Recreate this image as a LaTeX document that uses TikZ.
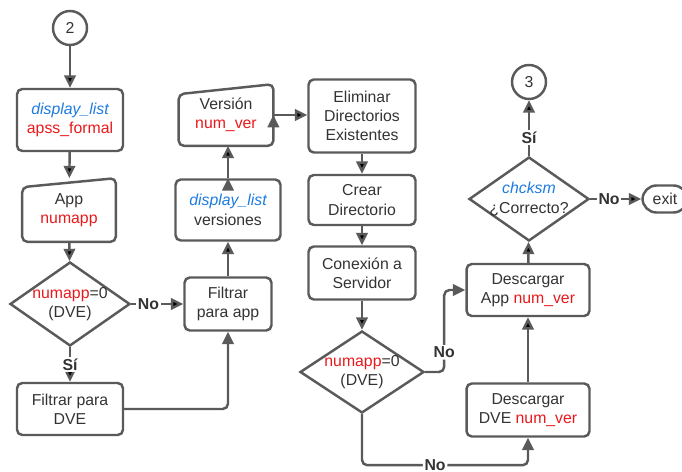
\documentclass[tikz,border=0pt]{standalone}
\usepackage{fontspec}
\setmainfont{Liberation Sans}
\usetikzlibrary{shapes.geometric,arrows.meta}
\definecolor{linegray}{HTML}{5A5A5A}
\definecolor{txtgray}{HTML}{333333}
\definecolor{varred}{HTML}{E8191C}
\definecolor{fnblue}{HTML}{1E7BE0}
\newcommand{\codevar}[1]{\textcolor{varred}{#1}}
\newcommand{\codefn}[1]{\textcolor{fnblue}{\itshape #1}}
\tikzset{
  >={Triangle[length=7pt,width=6.5pt]},
  proc/.style={draw=linegray,line width=1.4pt,rounded corners=3pt,align=center,text=txtgray,inner sep=1pt},
  manual/.style={draw=linegray,line width=1.4pt,rounded corners=3pt},
  decision/.style={diamond,draw=linegray,line width=1.4pt,align=center,text=txtgray,inner sep=-2pt,aspect=1.43},
  conn/.style={circle,draw=linegray,line width=1.4pt,minimum size=0.68cm,inner sep=0pt,text=txtgray},
  flow/.style={->,draw=linegray,line width=1.4pt},
  lbl/.style={fill=white,inner sep=1pt,text=txtgray,font=\fontsize{9}{11}\selectfont\bfseries}
}

\begin{document}
\begin{tikzpicture}[x=0.02cm,y=-0.02cm,font=\fontsize{9}{11}\selectfont]
          \useasboundingbox (0,0) rectangle (682,472);
          % first column
          \node[conn] (c2) at (70,28) {2};
          \node[proc,minimum width=2.12cm,minimum height=1.24cm] (lista) at (70,120) {\codefn{display\_list}\\\codevar{apss\_formal}};
          \node[align=center,text=txtgray,minimum width=1.86cm,minimum height=1.26cm,inner sep=0pt] (app) at (69,210) {App\\\codevar{numapp}};
          \draw[manual] (app.south west) -- ([yshift=-0.18cm]app.north west) -- (app.north east) -- (app.south east) -- cycle;
          \node[decision,minimum width=2.4cm,minimum height=1.68cm] (dec1) at (70,304) {\codevar{numapp}=0\\(DVE)};
          \node[proc,minimum width=2.12cm,minimum height=1.04cm] (fdve) at (70,409) {Filtrar para\\DVE};
          % second column
          \node[proc,minimum width=1.74cm,minimum height=1.06cm] (fapp) at (228,304) {Filtrar\\para app};
          \node[proc,minimum width=2.1cm,minimum height=1.22cm] (listb) at (228,210) {\codefn{display\_list}\\versiones};
          \node[align=center,text=txtgray,minimum width=1.88cm,minimum height=1.22cm,inner sep=0pt] (ver) at (226,115) {Versión\\\codevar{num\_ver}};
          \draw[manual] (ver.south west) -- ([yshift=-0.2cm]ver.north west) -- (ver.north east) -- (ver.south east) -- cycle;
          % third column
          \node[proc,minimum width=2.14cm,minimum height=1.46cm] (elim) at (362,116) {Eliminar\\Directorios\\Existentes};
          \node[proc,minimum width=2.14cm,minimum height=1.0cm] (crear) at (362,200) {Crear\\Directorio};
          \node[proc,minimum width=2.14cm,minimum height=1.06cm] (conex) at (362,273) {Conexión a\\Servidor};
          \node[decision,minimum width=2.48cm,minimum height=1.64cm] (dec2) at (362,372) {\codevar{numapp}=0\\(DVE)};
          % fourth column
          \node[proc,minimum width=2.46cm,minimum height=1.06cm] (ddve) at (528,410) {Descargar\\DVE \codevar{num\_ver}};
          \node[proc,minimum width=2.46cm,minimum height=1.04cm] (dapp) at (528,290) {Descargar\\App \codevar{num\_ver}};
          \node[decision,minimum width=2.4cm,minimum height=1.68cm] (dec3) at (529,199) {\codefn{chcksm}\\¿Correcto?};
          \node[conn] (c3) at (529,82) {3};
          \node[proc,rounded corners=8pt,minimum width=0.9cm,minimum height=0.54cm,text depth=0pt] (exit) at (665,199) {exit};
          % connectors
          \path[flow] (c2) edge (lista);
          \path[flow] (lista) edge (app);
          \path[flow] (app) edge (dec1);
          \path[flow] (dec1) edge node[lbl,pos=.33] {No} (fapp);
          \path[flow] (dec1) edge node[lbl,pos=.5] {Sí} (fdve);
          \draw[flow,rounded corners=3pt] (fdve.east) -| (fapp.south);
          \path[flow] (fapp) edge (listb);
          \path[flow] (listb.north) edge (listb.north |- ver.south);
          \path[flow] (ver.east) edge (ver.east -| elim.west);
          \path[flow] (elim) edge (crear);
          \path[flow] (crear) edge (conex);
          \path[flow] (conex) edge (dec2);
          \draw[flow,rounded corners=3pt] (dec2.east) -- ++(19,0) |- node[lbl,pos=.12] {No} (dapp.west);
          \draw[flow,rounded corners=3pt] (dec2.south) -- ++(0,51) -| node[lbl,pos=.22] {No} (ddve.south);
          \path[flow] (ddve) edge (dapp);
          \path[flow] (dapp) edge (dec3);
          \path[flow] (dec3) edge node[lbl,pos=.33] {Sí} (c3);
          \path[flow] (dec3) edge node[lbl,pos=.37] {No} (exit);
        \end{tikzpicture}
\end{document}
